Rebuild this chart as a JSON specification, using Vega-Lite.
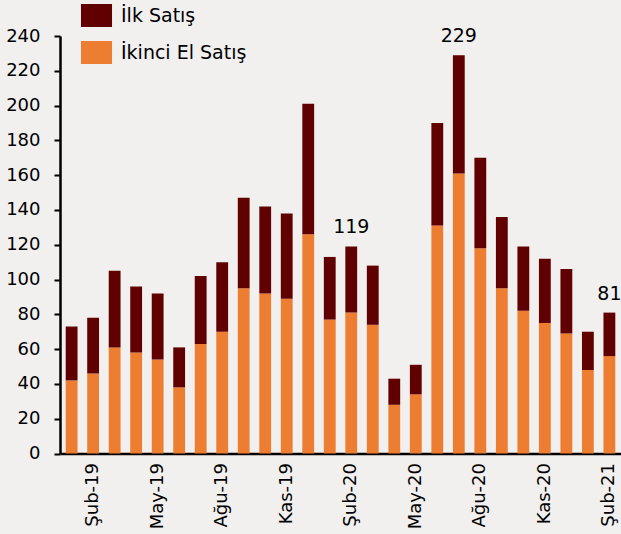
{
  "$schema": "https://vega.github.io/schema/vega-lite/v6.json",
  "autosize": {"type": "none"},
  "width": 561,
  "height": 417.5,
  "padding": {"left": 60, "top": 36, "right": 0, "bottom": 80},
  "background": "#f2f0ef",
  "config": {
    "view": {"stroke": null},
    "font": "DejaVu Sans",
    "axis": {"labelFont": "DejaVu Sans", "labelColor": "#000000", "domainColor": "#000000", "tickColor": "#000000", "grid": false, "title": null, "labelOverlap": false}
  },
  "data": {
    "values": [
      {"month": "Oca-19", "series": "İkinci El Satış", "value": 42}, {"month": "Oca-19", "series": "İlk Satış", "value": 31},
      {"month": "Şub-19", "series": "İkinci El Satış", "value": 46}, {"month": "Şub-19", "series": "İlk Satış", "value": 32},
      {"month": "Mar-19", "series": "İkinci El Satış", "value": 61}, {"month": "Mar-19", "series": "İlk Satış", "value": 44},
      {"month": "Nis-19", "series": "İkinci El Satış", "value": 58}, {"month": "Nis-19", "series": "İlk Satış", "value": 38},
      {"month": "May-19", "series": "İkinci El Satış", "value": 54}, {"month": "May-19", "series": "İlk Satış", "value": 38},
      {"month": "Haz-19", "series": "İkinci El Satış", "value": 38}, {"month": "Haz-19", "series": "İlk Satış", "value": 23},
      {"month": "Tem-19", "series": "İkinci El Satış", "value": 63}, {"month": "Tem-19", "series": "İlk Satış", "value": 39},
      {"month": "Ağu-19", "series": "İkinci El Satış", "value": 70}, {"month": "Ağu-19", "series": "İlk Satış", "value": 40},
      {"month": "Eyl-19", "series": "İkinci El Satış", "value": 95}, {"month": "Eyl-19", "series": "İlk Satış", "value": 52},
      {"month": "Eki-19", "series": "İkinci El Satış", "value": 92}, {"month": "Eki-19", "series": "İlk Satış", "value": 50},
      {"month": "Kas-19", "series": "İkinci El Satış", "value": 89}, {"month": "Kas-19", "series": "İlk Satış", "value": 49},
      {"month": "Ara-19", "series": "İkinci El Satış", "value": 126}, {"month": "Ara-19", "series": "İlk Satış", "value": 75},
      {"month": "Oca-20", "series": "İkinci El Satış", "value": 77}, {"month": "Oca-20", "series": "İlk Satış", "value": 36},
      {"month": "Şub-20", "series": "İkinci El Satış", "value": 81}, {"month": "Şub-20", "series": "İlk Satış", "value": 38},
      {"month": "Mar-20", "series": "İkinci El Satış", "value": 74}, {"month": "Mar-20", "series": "İlk Satış", "value": 34},
      {"month": "Nis-20", "series": "İkinci El Satış", "value": 28}, {"month": "Nis-20", "series": "İlk Satış", "value": 15},
      {"month": "May-20", "series": "İkinci El Satış", "value": 34}, {"month": "May-20", "series": "İlk Satış", "value": 17},
      {"month": "Haz-20", "series": "İkinci El Satış", "value": 131}, {"month": "Haz-20", "series": "İlk Satış", "value": 59},
      {"month": "Tem-20", "series": "İkinci El Satış", "value": 161}, {"month": "Tem-20", "series": "İlk Satış", "value": 68},
      {"month": "Ağu-20", "series": "İkinci El Satış", "value": 118}, {"month": "Ağu-20", "series": "İlk Satış", "value": 52},
      {"month": "Eyl-20", "series": "İkinci El Satış", "value": 95}, {"month": "Eyl-20", "series": "İlk Satış", "value": 41},
      {"month": "Eki-20", "series": "İkinci El Satış", "value": 82}, {"month": "Eki-20", "series": "İlk Satış", "value": 37},
      {"month": "Kas-20", "series": "İkinci El Satış", "value": 75}, {"month": "Kas-20", "series": "İlk Satış", "value": 37},
      {"month": "Ara-20", "series": "İkinci El Satış", "value": 69}, {"month": "Ara-20", "series": "İlk Satış", "value": 37},
      {"month": "Oca-21", "series": "İkinci El Satış", "value": 48}, {"month": "Oca-21", "series": "İlk Satış", "value": 22},
      {"month": "Şub-21", "series": "İkinci El Satış", "value": 56}, {"month": "Şub-21", "series": "İlk Satış", "value": 25}
    ]
  },
  "encoding": {
    "x": {
      "field": "month", "type": "nominal", "sort": null,
      "scale": {"paddingInner": 0.45, "paddingOuter": 0.265},
      "axis": {
        "values": ["Şub-19", "May-19", "Ağu-19", "Kas-19", "Şub-20", "May-20", "Ağu-20", "Kas-20", "Şub-21"],
        "labelAngle": -90, "labelFontSize": 18, "labelPadding": 9, "ticks": false, "domainWidth": 2.5
      }
    },
    "y": {
      "field": "value", "type": "quantitative", "aggregate": "sum",
      "scale": {"domain": [0, 240], "nice": false},
      "axis": {"values": [0, 20, 40, 60, 80, 100, 120, 140, 160, 180, 200, 220, 240], "labelFontSize": 18, "labelPadding": 14, "tickSize": 6, "tickWidth": 2, "domainWidth": 2.5, "labelOverlap": false}
    }
  },
  "layer": [
    {
      "mark": {"type": "bar"},
      "encoding": {
        "color": {
          "field": "series", "type": "nominal",
          "scale": {"domain": ["İlk Satış", "İkinci El Satış"], "range": ["#600000", "#ed7d31"]},
          "legend": {
            "title": null, "orient": "none", "legendX": 25, "legendY": -32, "padding": 0,
            "symbolType": "M-1.35,-1H1.35V1H-1.35Z", "symbolSize": 529, "symbolStrokeWidth": 0, "symbolOpacity": 1,
            "labelFontSize": 19, "labelFont": "DejaVu Sans", "labelColor": "#000000", "labelOffset": 13, "rowPadding": 14
          }
        },
        "order": {"field": "series", "sort": "ascending"}
      }
    },
    {
      "transform": [{"filter": {"field": "month", "oneOf": ["Şub-20", "Tem-20", "Şub-21"]}}],
      "mark": {"type": "text", "baseline": "bottom", "dy": -9, "fontSize": 19, "font": "DejaVu Sans", "color": "#000000"},
      "encoding": {
        "text": {"field": "value", "type": "quantitative", "aggregate": "sum"}
      }
    }
  ]
}
